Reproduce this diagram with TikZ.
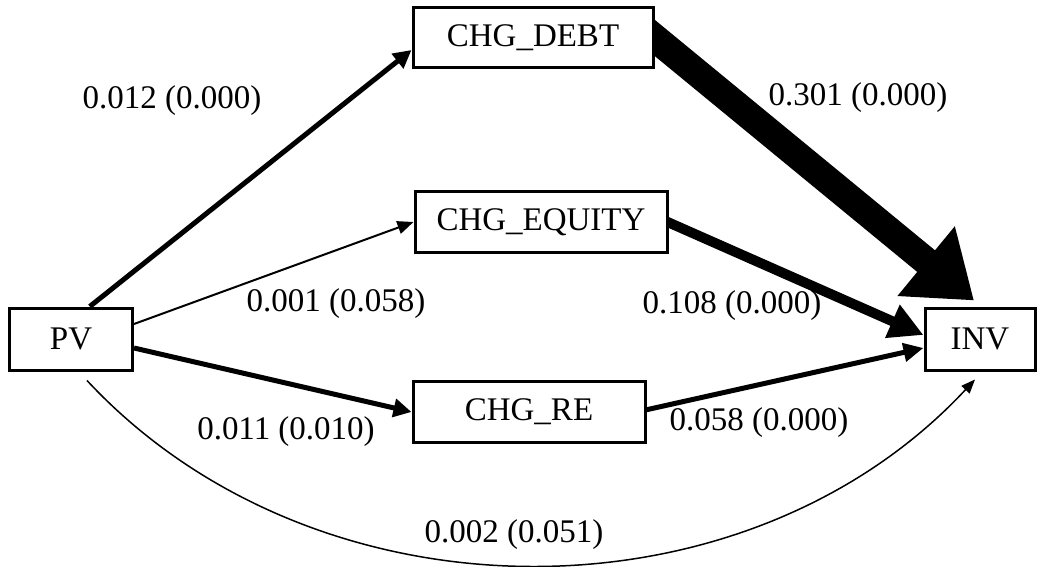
\documentclass[tikz,border=0pt]{standalone}
\usepackage{fontspec}
\setmainfont{Liberation Serif}
\usetikzlibrary{arrows.meta,calc,backgrounds}
\begin{document}
\begin{tikzpicture}[x=1pt,y=-1pt,
  box/.style={draw,line width=3pt,fill=white,inner sep=0pt,font=\fontsize{33}{40}\selectfont},
  lbl/.style={font=\fontsize{33}{40}\selectfont,inner sep=0pt},
  edge/.style={draw,line width=#1},
]
\useasboundingbox (0,0) rectangle (1037,567);
% nodes
\node[box,minimum width=123pt,minimum height=62pt] (pv) at (71,339) {PV};
\node[box,minimum width=240pt,minimum height=60pt] (debt) at (533,38) {CHG\_DEBT};
\node[box,minimum width=252pt,minimum height=60pt] (eq) at (541,222) {CHG\_EQUITY};
\node[box,minimum width=232pt,minimum height=61pt] (re) at (529,412) {CHG\_RE};
\node[box,minimum width=110pt,minimum height=62pt] (inv) at (980,339) {INV};
% connectors
\begin{scope}[on background layer]
\draw[edge=5pt,-{Triangle[length=18pt,width=18pt]}] (pv.60) -- ($(debt.west)+(0,12)$);
\draw[edge=2pt,-{Triangle[length=16pt,width=13pt]}] ($(pv.east)+(0,-15)$) -- (eq.west);
\draw[edge=5pt,-{Triangle[length=18pt,width=18pt]}] ($(pv.east)+(0,9)$) -- (re.west);
\draw[edge=28pt,-{Triangle[length=62pt,width=86pt]}] ($(debt.east)+(-24,-20)$) -- ($(inv.north)+(-6,-6)$);
\draw[edge=10pt,-{Triangle[length=34pt,width=34pt]}] ($(eq.east)+(-10,-4)$) -- ($(inv.west)+(0,-4)$);
\draw[edge=5pt,-{Triangle[length=20pt,width=18pt]}] ($(re.east)+(-10,0)$) -- ($(inv.west)+(0,9)$);
\end{scope}
\draw[edge=1.5pt,-{Triangle[length=14pt,width=11pt]}] ($(pv.south)+(16,9)$) .. controls +(230,247) and +(-230,247) .. ($(inv.south)+(-5,8)$);
% labels
\node[lbl] (l1) at (172,101) {0.012 (0.000)};
\node[lbl] (l2) at (858,98) {0.301 (0.000)};
\node[lbl] (l3) at (336,304) {0.001 (0.058)};
\node[lbl] (l4) at (732,306) {0.108 (0.000)};
\node[lbl] (l5) at (286,432) {0.011 (0.010)};
\node[lbl] (l6) at (759,423) {0.058 (0.000)};
\node[lbl] (l7) at (514,535) {0.002 (0.051)};
\end{tikzpicture}
\end{document}
